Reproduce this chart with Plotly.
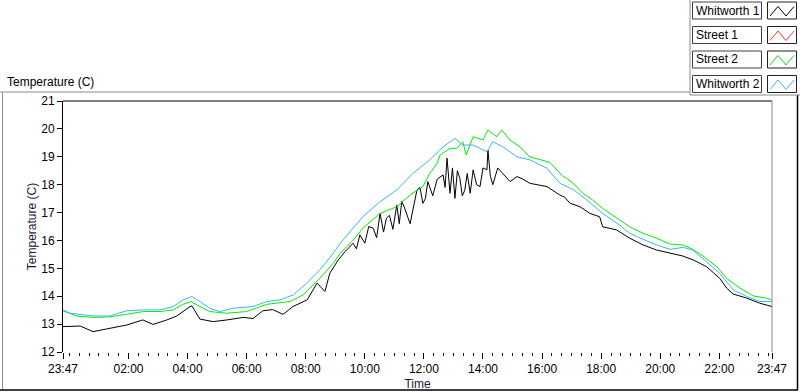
import plotly.graph_objects as go

# ---------------- data ----------------
w1_times = ["23:47","00:22","00:48","01:22","01:57","02:29","02:50","03:18","03:38","04:05","04:09","04:25",
            "04:52","05:20","05:53","06:13","06:33","06:53","07:14","07:34","08:03","08:23","08:39","08:49",
            "09:06","09:20","09:36","09:43","09:50","10:00","10:08","10:17","10:24","10:31","10:38","10:44",
            "10:50","10:57","11:05","11:10","11:15","11:20","11:26","11:32","11:40","11:46","11:52","11:58",
            "12:03","12:08","12:18","12:27","12:39","12:43","12:47","12:53","12:58","13:03","13:08","13:13",
            "13:18","13:23","13:28","13:34","13:40","13:47","13:54","14:00","14:08","14:10","14:15","14:20",
            "14:30","14:40","14:55","15:09","15:21","15:35","16:10",
            "16:36","16:46","16:57","17:17","17:37","17:57","18:03","18:31","18:58","19:25","19:52","20:19",
            "20:46","21:07","21:34","22:01","22:15","22:28","22:56","23:22","23:47"]
w1_vals = [12.91,12.93,12.73,12.85,12.97,13.15,12.99,13.15,13.29,13.63,13.65,13.18,
           13.09,13.15,13.24,13.20,13.48,13.52,13.35,13.63,13.87,14.47,14.17,14.83,
           15.30,15.60,15.90,15.70,16.20,15.90,16.50,16.44,16.10,16.97,16.30,16.80,
           16.90,16.40,17.27,16.60,17.40,17.20,16.90,16.60,17.30,17.81,17.90,17.33,
           17.50,18.11,17.60,18.20,18.35,17.90,18.95,17.69,18.60,17.51,18.50,18.23,
           17.60,17.80,18.40,17.69,18.53,18.00,17.93,18.60,18.53,19.24,18.30,18.00,
           18.60,18.41,18.11,18.29,18.20,18.05,17.93,
           17.63,17.55,17.33,17.21,16.97,16.85,16.49,16.38,16.08,15.84,15.66,15.54,
           15.44,15.30,15.06,14.64,14.29,14.08,13.93,13.75,13.63]

# Street 1: no red trace is visible in the picture
s1_times = []
s1_vals = []

s2_times = ["23:47","00:15","00:49","01:22","01:56","02:30","03:04","03:31","03:51","04:07","04:25","04:45",
            "05:19","06:00","06:41","07:28","07:55","08:29","08:56","09:10","09:36","09:56","10:31","11:05",
            "11:32","11:58","12:12","12:27","12:33","12:53","13:07","13:19","13:26","13:40","14:00","14:10",
            "14:28","14:38","14:55","15:15","15:35","15:56","16:16","16:42","16:50","17:03","17:23","17:43",
            "18:03","18:32","18:58","19:25","19:53","20:20","20:46","21:06","21:27","21:55","22:15","22:42",
            "23:09","23:36","23:47"]
s2_vals = [13.48,13.29,13.24,13.26,13.35,13.45,13.45,13.51,13.71,13.81,13.63,13.45,
           13.39,13.45,13.71,13.81,14.05,14.65,15.18,15.54,16.00,16.44,16.97,17.21,
           17.63,17.93,18.41,18.77,19.06,19.30,19.30,19.54,19.06,19.72,19.60,19.96,
           19.72,19.96,19.60,19.36,19.00,18.90,18.80,18.30,18.23,18.05,17.69,17.45,
           17.15,16.80,16.49,16.26,16.08,15.87,15.84,15.68,15.44,15.06,14.64,14.29,
           14.01,13.93,13.87]

w2_times = ["23:47","00:01","00:49","01:22","01:56","02:30","03:04","03:31","03:51","04:09","04:25","04:45",
            "05:06","05:33","06:13","06:41","07:08","07:35","08:02","08:29","08:56","09:10","09:36","09:56",
            "10:31","11:05","11:38","12:12","12:39","12:53","13:03","13:19","13:40","14:08","14:20","14:40",
            "15:09","15:35","16:10","16:36","17:03","17:31","18:03","18:32","18:58","19:25","19:53","20:20",
            "20:46","21:06","21:34","22:01","22:28","22:56","23:22","23:47"]
w2_vals = [13.51,13.39,13.29,13.29,13.48,13.51,13.51,13.63,13.87,13.99,13.81,13.57,
           13.45,13.57,13.63,13.81,13.87,14.05,14.47,14.95,15.54,15.90,16.44,16.85,
           17.39,17.81,18.41,18.89,19.36,19.54,19.66,19.42,19.42,19.18,19.54,19.36,
           19.00,18.89,18.59,18.05,17.83,17.45,16.97,16.62,16.26,16.04,15.84,15.68,
           15.75,15.66,15.24,14.82,14.23,13.99,13.81,13.81]

x_major_labels = ["23:47","02:00","04:00","06:00","08:00","10:00","12:00",
                  "14:00","16:00","18:00","20:00","22:00","23:47"]
y_ticks = [12, 13, 14, 15, 16, 17, 18, 19, 20, 21]

series_names = ["Whitworth 1", "Street 1", "Street 2", "Whitworth 2"]
series_colors = ["#000000", "#ff3030", "#00ee00", "#3cb4f5"]

DAY1 = "2013-01-01"
DAY2 = "2013-01-02"


def to_dt(times):
    out = []
    for i, t in enumerate(times):
        day = DAY1 if (i == 0 and t == "23:47") else DAY2
        out.append(f"{day} {t}")
    return out


start = f"{DAY1} 23:47"
end = f"{DAY2} 23:47"

major_vals = [start] + [f"{DAY2} {t}" for t in x_major_labels[1:-1]] + [end]
minor_vals = []
for m in range(0, 24 * 60, 20):
    minor_vals.append(f"{DAY2} {m // 60:02d}:{m % 60:02d}")

fig = go.Figure()
all_series = [(w1_times, w1_vals), (s1_times, s1_vals), (s2_times, s2_vals), (w2_times, w2_vals)]
for (ts, vs), name, col in zip(all_series, series_names, series_colors):
    fig.add_trace(go.Scatter(x=to_dt(ts), y=vs, mode="lines", name=name,
                             line=dict(color=col, width=1), showlegend=False, hoverinfo="skip"))

# geometry helpers (pixel -> paper)
L, R, T, B = 63, 772, 101, 352
W, H = 800, 392


def px(x):
    return (x - L) / (R - L)


def py(y):
    return (B - y) / (B - T)


shapes = []
# plot frame: top black, right gray
shapes.append(dict(type="line", xref="paper", yref="paper", x0=px(63), x1=px(772), y0=py(101), y1=py(101),
                   line=dict(color="#000000", width=1)))
shapes.append(dict(type="line", xref="paper", yref="paper", x0=px(772), x1=px(772), y0=py(101), y1=py(352),
                   line=dict(color="#8c8c8c", width=1)))
# outer panel frame
shapes.append(dict(type="line", xref="paper", yref="paper", x0=px(0), x1=px(690), y0=py(92), y1=py(92),
                   line=dict(color="#8c8c8c", width=1)))
shapes.append(dict(type="line", xref="paper", yref="paper", x0=px(2.5), x1=px(2.5), y0=py(92), y1=py(390),
                   line=dict(color="#8c8c8c", width=1)))
shapes.append(dict(type="line", xref="paper", yref="paper", x0=px(0), x1=px(798), y0=py(390), y1=py(390),
                   line=dict(color="#000000", width=1.5)))
shapes.append(dict(type="line", xref="paper", yref="paper", x0=px(797.5), x1=px(797.5), y0=py(95), y1=py(390),
                   line=dict(color="#000000", width=1.5)))
# legend panel frame
shapes.append(dict(type="line", xref="paper", yref="paper", x0=px(690), x1=px(690), y0=py(0), y1=py(95),
                   line=dict(color="#8c8c8c", width=1)))
shapes.append(dict(type="line", xref="paper", yref="paper", x0=px(690), x1=px(800), y0=py(95), y1=py(95),
                   line=dict(color="#8c8c8c", width=1)))

annotations = []
row_tops = [2, 26.5, 51, 75.5]
for top, name, col in zip(row_tops, series_names, series_colors):
    bot = top + 17
    shapes.append(dict(type="rect", xref="paper", yref="paper", x0=px(692.5), x1=px(761.5),
                       y0=py(bot), y1=py(top), line=dict(color="#404040", width=1), fillcolor="white"))
    shapes.append(dict(type="rect", xref="paper", yref="paper", x0=px(767.5), x1=px(796.5),
                       y0=py(bot), y1=py(top), line=dict(color="#202020", width=1), fillcolor="white"))
    pts = [(770, top + 14), (778, top + 4.5), (786, top + 14), (794, top + 4.5)]
    path = "M " + " L ".join(f"{px(a):.5f},{py(b):.5f}" for a, b in pts)
    shapes.append(dict(type="path", xref="paper", yref="paper", path=path,
                       line=dict(color=col, width=1)))
    annotations.append(dict(xref="paper", yref="paper", x=px(694), y=py(top + 8.5), text=name,
                            showarrow=False, xanchor="left", yanchor="middle",
                            font=dict(size=12, color="#000000")))

annotations.append(dict(xref="paper", yref="paper", x=px(5), y=py(82), text="Temperature (C)",
                        showarrow=False, xanchor="left", yanchor="middle",
                        font=dict(size=12, color="#000000")))

fig.update_layout(
    width=W, height=H, autosize=False,
    margin=dict(l=L, r=W - R, t=T, b=H - B, autoexpand=False),
    paper_bgcolor="white", plot_bgcolor="white",
    font=dict(family="Liberation Sans, Arial, sans-serif", size=12, color="#000000"),
    shapes=shapes, annotations=annotations,
    xaxis=dict(type="date", range=[start, end], tickmode="array", tickvals=major_vals,
               ticktext=x_major_labels, ticks="outside", ticklen=6, tickwidth=1, tickcolor="#000000",
               showgrid=False, zeroline=False, showline=False, automargin=False,
               minor=dict(tickmode="array", tickvals=minor_vals, ticks="outside", ticklen=3,
                          tickwidth=1, tickcolor="#000000", showgrid=False),
               title=dict(text="Time", standoff=4, font=dict(size=12, color="#1a1a33")),
               tickfont=dict(size=12, color="#000000")),
    yaxis=dict(range=[12, 21], tickmode="array", tickvals=y_ticks, ticks="outside", ticklen=5,
               tickwidth=1, tickcolor="#000000", showgrid=False, zeroline=False,
               showline=True, linecolor="#000000", linewidth=1, automargin=False,
               title=dict(text="Temperature (C)", standoff=2, font=dict(size=12, color="#1a1a33")),
               tickfont=dict(size=12, color="#000000")),
)

fig.write_html("out.html",
               post_script="document.body.style.margin='0';document.body.style.overflow='hidden';",
               config={"displayModeBar": False, "responsive": False, "staticPlot": True})
